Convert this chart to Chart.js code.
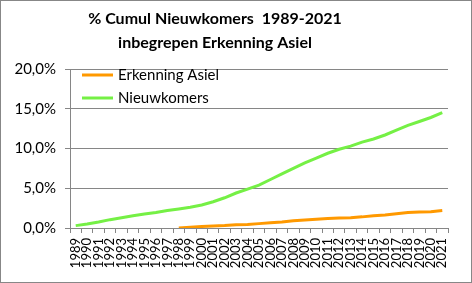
<!DOCTYPE html>
<html>
<head>
<meta charset="utf-8">
<script src="https://cdn.jsdelivr.net/npm/chart.js@4.4.0/dist/chart.umd.min.js"></script>
<style>
    body{margin:0;background:#fff;}
    .frame{width:472px;height:283px;border:1px solid #878787;box-sizing:border-box;position:relative;}
    canvas{display:block;}
</style>
</head>
<body>
<div class="frame"><canvas id="trend_graph" width="470" height="281"></canvas></div>
<script>
let years = ["1989","1990","1991","1992","1993","1994","1995","1996","1997","1998","1999",
    "2000","2001","2002","2003","2004","2005","2006","2007","2008","2009","2010",
    "2011","2012","2013","2014","2015","2016","2017","2018","2019","2020","2021"];
// values in percent
let asiel = [null,null,null,null,null,null,null,null,null,0.0,0.1,
    0.2,0.25,0.3,0.4,0.45,0.55,0.65,0.75,0.9,1.0,1.1,
    1.2,1.25,1.3,1.4,1.55,1.65,1.8,1.95,2.0,2.05,2.2];
let nieuwkomers = [0.3,0.5,0.75,1.05,1.3,1.55,1.75,1.95,2.2,2.4,2.6,
    2.9,3.3,3.8,4.4,4.9,5.4,6.1,6.8,7.5,8.2,8.8,
    9.4,9.9,10.3,10.8,11.2,11.7,12.3,12.9,13.4,13.9,14.5];
let titleLines = ["% Cumul Nieuwkomers  1989-2021", "inbegrepen Erkenning Asiel"];
let yTicks = [0, 5, 10, 15, 20];

const font = "Lato, 'Open Sans', sans-serif";
const gray = "#868686";

// title + legend drawn inside the picture like the original
let decorations = {
    id: "decorations",
    afterDraw(chart){
        let ctx = chart.ctx;
        ctx.save();
        ctx.fillStyle = "#000";
        ctx.textAlign = "center";
        ctx.textBaseline = "middle";
        ctx.font = "bold 16px " + font;
        ctx.fillText(titleLines[0], 214, 18);
        ctx.fillText(titleLines[1], 214, 42);

        ctx.textAlign = "left";
        ctx.font = "15px " + font;
        chart.data.datasets.forEach(function(ds, i){
            let y = 74 + i * 23;
            ctx.strokeStyle = ds.borderColor;
            ctx.lineWidth = 3;
            ctx.beginPath();
            ctx.moveTo(81, y);
            ctx.lineTo(112, y);
            ctx.stroke();
            ctx.fillStyle = "#000";
            ctx.fillText(ds.label, 117, y);
        });
        ctx.restore();
    }
};

new Chart($id("trend_graph"), {
    type: "line",
    data: {
        labels: years,
        datasets: [{
            label: "Erkenning Asiel",
            data: asiel,
            borderColor: "#FF9900",
            borderWidth: 3,
            pointRadius: 0,
            spanGaps: false
        }, {
            label: "Nieuwkomers",
            data: nieuwkomers,
            borderColor: "#75F045",
            borderWidth: 3,
            pointRadius: 0
        }]
    },
    options: {
        responsive: false,
        animation: false,
        layout: {padding: {top: 68, right: 23, left: 0, bottom: 0}},
        plugins: {legend: {display: false}, tooltip: {enabled: false}},
        scales: {
            x: {
                offset: true,
                grid: {offset: true, drawOnChartArea: false, drawTicks: true, tickLength: 5, color: gray},
                border: {color: gray},
                ticks: {
                    minRotation: 90, maxRotation: 90, autoSkip: false,
                    color: "#000", padding: 5,
                    font: {family: font, size: 13}
                },
                afterFit: function(scale){ scale.height = 54; }
            },
            y: {
                min: 0, max: 20,
                afterBuildTicks: function(scale){
                    scale.ticks = yTicks.map(function(v){ return {value: v}; });
                },
                grid: {color: gray, tickLength: 5},
                border: {color: gray},
                ticks: {
                    color: "#000", padding: 9,
                    font: {family: font, size: 15},
                    callback: function(v){ return v.toFixed(1).replace(".", ",") + "%"; }
                },
                afterFit: function(scale){ scale.width = 69; }
            }
        }
    },
    plugins: [decorations]
});

function $id(id){ return document.getElementById(id); }
</script>
</body>
</html>
